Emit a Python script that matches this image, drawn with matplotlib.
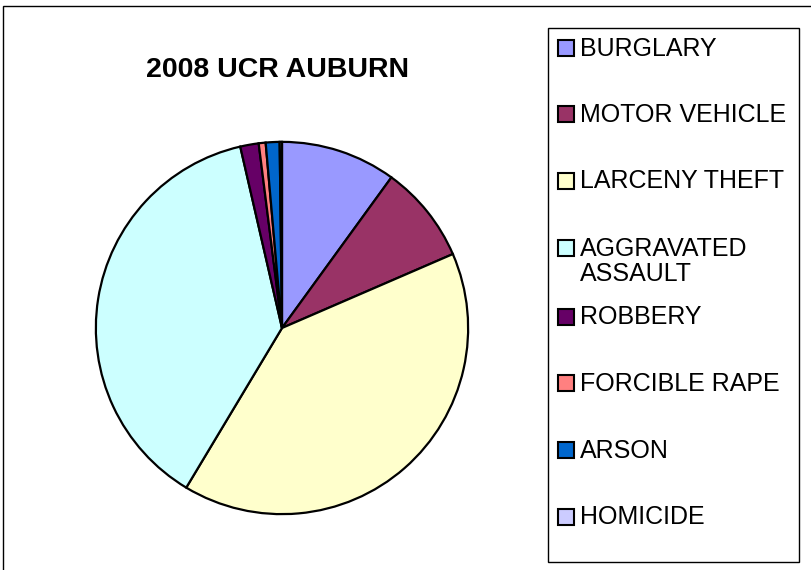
import numpy as np
import matplotlib.pyplot as plt
from matplotlib.patches import Rectangle

plt.rcParams['font.family'] = ['Liberation Sans', 'DejaVu Sans']

labels = ['BURGLARY', 'MOTOR VEHICLE', 'LARCENY THEFT', 'AGGRAVATED\nASSAULT',
          'ROBBERY', 'FORCIBLE RAPE', 'ARSON', 'HOMICIDE']
values = [10.0, 8.5, 40.1, 37.8, 1.6, 0.6, 1.2, 0.2]
colors = ['#9999FF', '#993366', '#FFFFCC', '#CCFFFF',
          '#660066', '#FF8080', '#0066CC', '#CCCCFF']

W, H = 811, 570
fig = plt.figure(figsize=(W / 100, H / 100), dpi=100)

def fx(px):
    return px / W

def fy(py):
    return 1 - py / H

# outer chart border
fig.patches.append(Rectangle((fx(3), -0.01), 1.0, fy(6) + 0.01, transform=fig.transFigure,
                             fill=False, edgecolor='black', linewidth=1))

# pie
cx, cy, r = 282, 328, 188
ax = fig.add_axes([fx(cx - r), fy(cy + r), 2 * r / W, 2 * r / H])
wedges, _ = ax.pie(values, colors=colors, startangle=90, counterclock=False,
                   wedgeprops=dict(edgecolor='black', linewidth=1.6))
ax.set_xlim(-1.01, 1.01)
ax.set_ylim(-1.01, 1.01)
ax.set_aspect('equal')

fig.text(fx(278), fy(70), '2008 UCR AUBURN', ha='center', va='center',
         fontsize=20.5, fontweight='bold')

# legend box, Excel style (first line of a wrapped label sits on the row)
fig.patches.append(Rectangle((fx(548), fy(562)), 251 / W, 534 / H, transform=fig.transFigure,
                             fill=False, edgecolor='black', linewidth=1))
row_y = [47.5, 114, 180.5, 248, 316.5, 383, 450, 516.5]
box = 16
for lab, col, y in zip(labels, colors, row_y):
    fig.patches.append(Rectangle((fx(558), fy(y + box / 2)), box / W, box / H,
                                 transform=fig.transFigure, facecolor=col,
                                 edgecolor='black', linewidth=1.5))
    for k, line in enumerate(lab.split('\n')):
        fig.text(fx(580), fy(y + 8 + 25 * k), line, ha='left', va='baseline',
                 fontsize=18)

fig.savefig('out.png', dpi=100)
